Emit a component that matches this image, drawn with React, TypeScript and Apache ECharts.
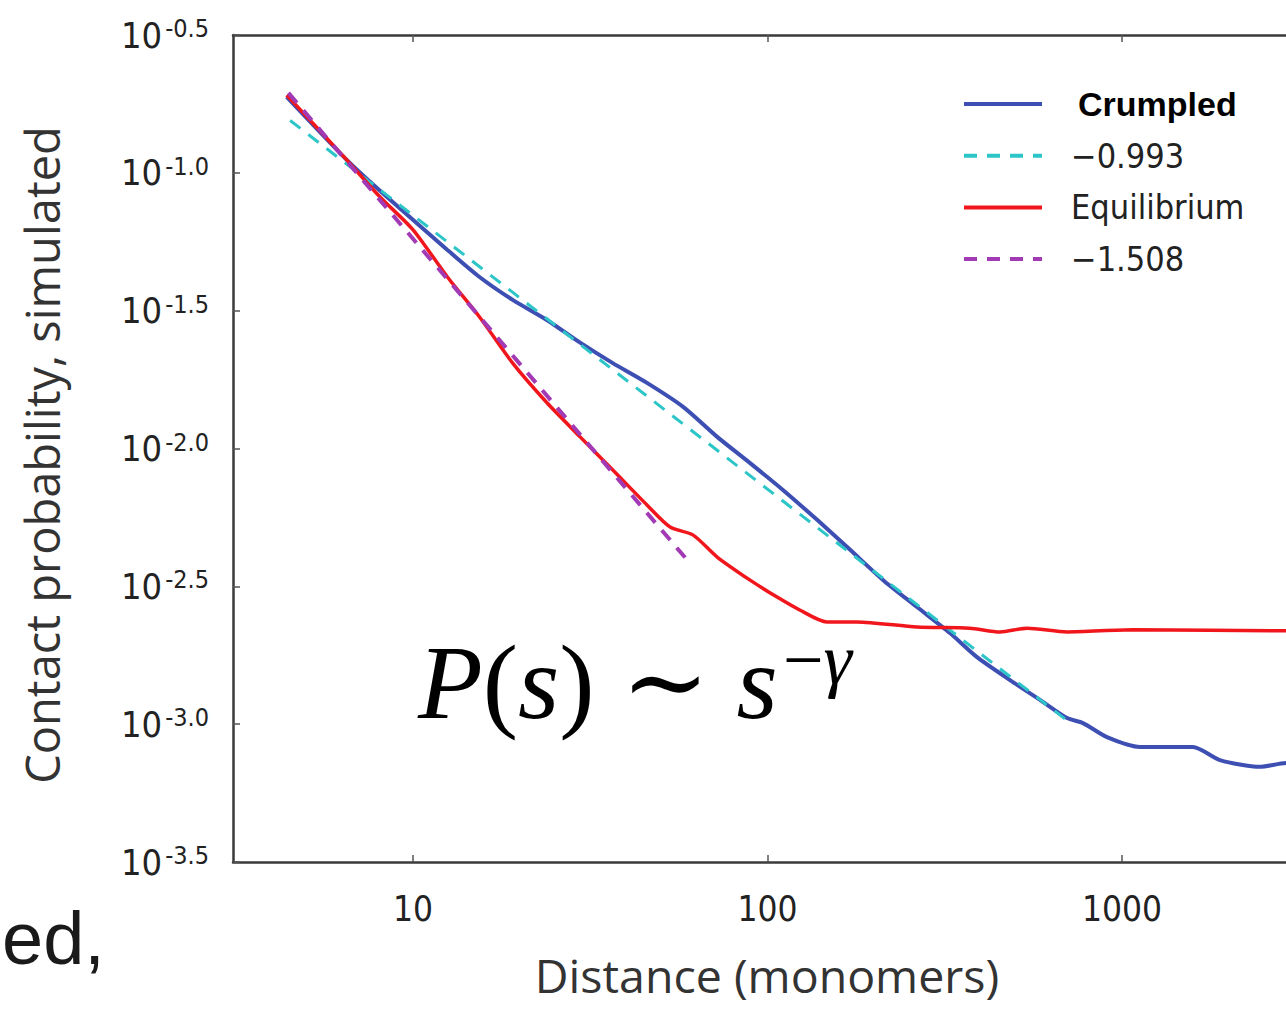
import React, { useEffect, useRef } from "react";
import * as echarts from "echarts";

// ---- data ----
const crumpledDistance = [4.4, 6.5, 8.2, 12.5, 15.4, 19.1, 23.9, 29.6, 36.6, 45.7, 57.8, 72.1, 89.3, 110.7, 138, 171, 212, 264, 327, 390, 483, 587, 700, 776, 907, 1124, 1585, 1888, 2449, 2904, 3150];
const crumpledProbability = [0.1884, 0.1114, 0.0845, 0.0525, 0.0419, 0.0346, 0.0292, 0.0242, 0.0204, 0.0173, 0.01416, 0.01102, 0.00885, 0.00706, 0.00551, 0.00429, 0.00333, 0.00266, 0.00214, 0.00175, 0.001445, 0.001225, 0.001052, 0.001009, 0.000897, 0.000826, 0.000826, 0.000741, 0.0007, 0.000723, 0.000715];

const equilibriumDistance = [4.4, 6.5, 8.07, 10, 12.5, 15.4, 19.1, 23.9, 29.6, 36.6, 45.7, 53.1, 61.7, 72.1, 89.3, 106.4, 123.6, 147, 179, 264, 372, 453, 540, 700, 1074, 2904, 3150];
const equilibriumProbability = [0.1914, 0.1114, 0.0817, 0.0621, 0.0419, 0.03, 0.0204, 0.01462, 0.01102, 0.00836, 0.00624, 0.00519, 0.00485, 0.00404, 0.00333, 0.00289, 0.00259, 0.00235, 0.00235, 0.00225, 0.00223, 0.00216, 0.00223, 0.00216, 0.0022, 0.00218, 0.00218];

const crumpledFitDistance = [4.5, 710];
const crumpledFitProbability = [0.1549, 0.001016];

const equilibriumFitDistance = [4.45, 59.3];
const equilibriumFitProbability = [0.195, 0.003945];

const seriesNames = ["Crumpled", "\u22120.993", "Equilibrium", "\u22121.508"];
const xTickValues = [10, 100, 1000];
const yTickExponents = [-3.5, -3, -2.5, -2, -1.5, -1, -0.5];

const NARROW = "'DejaVu Sans Condensed', 'Liberation Sans Narrow', 'Roboto', sans-serif";
const SANS = "'Open Sans', 'Liberation Sans', sans-serif";
const SERIF = "'Liberation Serif', 'DejaVu Serif', serif";

export default function App() {
  const ref = useRef<HTMLDivElement>(null);

  useEffect(() => {
    if (!ref.current) return;
    const chart = echarts.init(ref.current, null, { renderer: "svg" });
    const pairs = (xs: number[], ys: number[]) => xs.map((x, i) => [x, ys[i]]);
    const yTickValues = yTickExponents.map((e) => Math.pow(10, e));

    const xAxisBase = {
      type: "log",
      logBase: 10,
      min: 3.105,
      max: 3198,
      splitLine: { show: false },
      minorTick: { show: false },
      minorSplitLine: { show: false },
      axisLine: { show: true, onZero: false, lineStyle: { color: "#3a3a3a", width: 2.5 } },
      axisTick: { show: true, inside: true, length: 7, customValues: xTickValues, lineStyle: { color: "#555", width: 1.5 } },
    };

    const option = {
      animation: false,
      backgroundColor: "#ffffff",
      grid: { left: 233, top: 35, width: 1068, height: 827, containLabel: false },
      xAxis: [
        {
          ...xAxisBase,
          position: "bottom",
          axisLabel: {
            customValues: xTickValues,
            formatter: (v: number) => {
              const e = Math.log10(v);
              return Math.abs(e - Math.round(e)) < 1e-6 ? String(Math.round(v)) : "";
            },
            fontSize: 35,
            fontFamily: NARROW,
            color: "#222",
            margin: 29,
          },
        },
        {
          ...xAxisBase,
          position: "top",
          axisLabel: { show: false },
        },
      ],
      yAxis: {
        type: "log",
        logBase: 10,
        min: Math.pow(10, -3.5),
        max: Math.pow(10, -0.5),
        interval: 0.5,
        splitLine: { show: false },
        minorTick: { show: false },
        axisLine: { show: true, onZero: false, lineStyle: { color: "#3a3a3a", width: 2.5 } },
        axisTick: { show: true, inside: true, length: 7, customValues: yTickValues, lineStyle: { color: "#555", width: 1.5 } },
        axisLabel: {
          customValues: yTickValues,
          margin: 24,
          formatter: (v: number) => {
            const e = Math.round(Math.log10(v) * 10) / 10;
            return `{b|10}{s|-${Math.abs(e).toFixed(1)}}`;
          },
          rich: {
            b: { fontSize: 36, fontFamily: NARROW, color: "#222", lineHeight: 38 },
            s: { fontSize: 25, fontFamily: NARROW, color: "#222", verticalAlign: "top", lineHeight: 24, padding: [0, 0, 0, 3] },
          },
        },
      },
      legend: {
        orient: "vertical",
        left: 957,
        top: 82,
        itemWidth: 78,
        itemHeight: 16,
        itemGap: 17.7,
        itemStyle: { opacity: 0 },
        lineStyle: { width: 4 },
        data: seriesNames.map((n) => ({ name: n, itemStyle: { opacity: 0 } })),
        formatter: (name: string) => (name === "Crumpled" ? `{b|${name}}` : `{n|${name}}`),
        textStyle: {
          rich: {
            b: { fontSize: 34, fontWeight: "bold", fontFamily: "'Liberation Sans', Arial, sans-serif", color: "#000", lineHeight: 36, padding: [0, 0, 0, 31] },
            n: { fontSize: 34, fontFamily: NARROW, color: "#222", lineHeight: 36, padding: [0, 0, 0, 24] },
          },
        },
      },
      series: [
        {
          name: seriesNames[0],
          type: "line",
          data: pairs(crumpledDistance, crumpledProbability),
          showSymbol: false,
          symbol: "none",
          smooth: 0.25,
          lineStyle: { color: "#3d4fb3", width: 4 },
          itemStyle: { color: "#3d4fb3" },
          z: 2,
        },
        {
          name: seriesNames[1],
          type: "line",
          data: pairs(crumpledFitDistance, crumpledFitProbability),
          showSymbol: false,
          symbol: "none",
          lineStyle: { color: "#2cc5c8", width: 3, type: [13, 10] },
          itemStyle: { color: "#2cc5c8" },
          z: 3,
        },
        {
          name: seriesNames[2],
          type: "line",
          data: pairs(equilibriumDistance, equilibriumProbability),
          showSymbol: false,
          symbol: "none",
          smooth: 0.25,
          lineStyle: { color: "#f0161c", width: 3.5 },
          itemStyle: { color: "#f0161c" },
          z: 4,
        },
        {
          name: seriesNames[3],
          type: "line",
          data: pairs(equilibriumFitDistance, equilibriumFitProbability),
          showSymbol: false,
          symbol: "none",
          lineStyle: { color: "#a23ab5", width: 4, type: [13, 10] },
          itemStyle: { color: "#a23ab5" },
          z: 5,
        },
      ],
      graphic: [
        {
          type: "text",
          x: 42,
          y: 455,
          rotation: Math.PI / 2,
          style: { text: "Contact probability, simulated", fontSize: 47, fontFamily: SANS, fill: "#333", align: "center", verticalAlign: "middle", lineHeight: 47 },
        },
        {
          type: "text",
          x: 767,
          y: 975,
          style: { text: "Distance (monomers)", fontSize: 46.5, fontFamily: SANS, fill: "#333", align: "center", verticalAlign: "middle", lineHeight: 46 },
        },
        {
          type: "text",
          x: 2,
          y: 938,
          style: { text: "ed,", fontSize: 74, fontFamily: "'Liberation Sans', sans-serif", fill: "#1a1a1a", align: "left", verticalAlign: "middle" },
        },
        {
          type: "text",
          x: 418,
          y: 682,
          style: {
            text: "{i|P}{r|(}{i|s}{r|)}{r| \u223C }{i|s}",
            align: "left",
            verticalAlign: "middle",
            rich: {
              i: { fontSize: 106, fontFamily: SERIF, fontStyle: "italic", fill: "#000" },
              r: { fontSize: 106, fontFamily: SERIF, fill: "#000" },
            },
          },
        },
        {
          type: "text",
          x: 783,
          y: 660,
          style: {
            text: "{r|\u2212}{i|\u03B3}",
            align: "left",
            verticalAlign: "middle",
            rich: {
              i: { fontSize: 72, fontFamily: SERIF, fontStyle: "italic", fill: "#000" },
              r: { fontSize: 72, fontFamily: SERIF, fill: "#000" },
            },
          },
        },
      ],
    };

    chart.setOption(option as any);
    return () => chart.dispose();
  }, []);

  return (
    <div style={{ position: "absolute", left: 0, top: 0, width: 1286, height: 1009, overflow: "hidden", background: "#fff" }}>
      <div ref={ref} style={{ width: 1320, height: 1009 }} />
    </div>
  );
}
